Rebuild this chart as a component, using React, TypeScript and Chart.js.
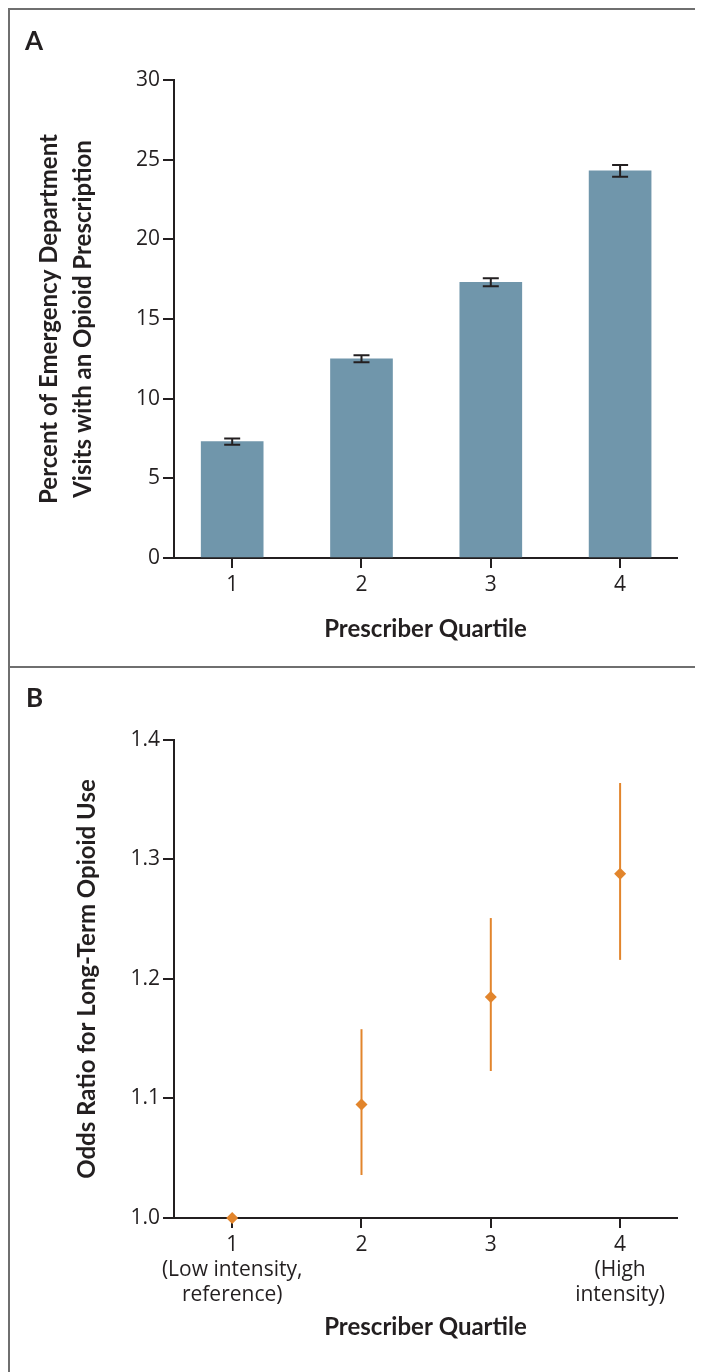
import React, { useEffect, useRef } from "react";
import { Chart, registerables } from "chart.js";

Chart.register(...registerables);

// ---------- Data ----------
const quartiles = [1, 2, 3, 4];

// Panel A: percent of ED visits with an opioid prescription
const visitPercent = [7.3, 12.5, 17.3, 24.3];
const visitPercentErr = [0.2, 0.22, 0.25, 0.37];
const percentTicks = [0, 5, 10, 15, 20, 25, 30];
const quartileLabelsA = ["1", "2", "3", "4"];

// Panel B: odds ratio for long-term opioid use
const oddsRatio = [1.0, 1.095, 1.185, 1.288];
const oddsLower = [null, 1.036, 1.123, 1.216];
const oddsUpper = [null, 1.158, 1.251, 1.364];
const oddsTicks = [1.0, 1.1, 1.2, 1.3, 1.4];
const quartileLabelsB = [
  ["1", "(Low intensity,", "reference)"],
  ["2"],
  ["3"],
  ["4", "(High", "intensity)"],
];

// ---------- Styles ----------
const FONT = "Lato";
const TICK_FONT = "Open Sans";
const INK = "#231f20";
const FRAME = "#6f6f6f";
const BAR = "#7096ab";
const ORANGE = "#e2852c";

const tickFont = { family: TICK_FONT, size: 21, weight: "normal", lineHeight: 1.19 };
const titleFont = { family: FONT, size: 24, weight: "bold", lineHeight: 1.2 };

function makeRangePlugin(
  id: string,
  lower: (number | null)[],
  upper: (number | null)[],
  color: string,
  width: number,
  cap: number,
  under: boolean
) {
  const draw = (chart: any) => {
    const { ctx } = chart;
    const x = chart.scales.x;
    const y = chart.scales.y;
    ctx.save();
    ctx.strokeStyle = color;
    ctx.lineWidth = width;
    quartiles.forEach((q, i) => {
      const lo = lower[i];
      const hi = upper[i];
      if (lo == null || hi == null) return;
      const px = x.getPixelForValue(q);
      const pLo = y.getPixelForValue(lo);
      const pHi = y.getPixelForValue(hi);
      ctx.beginPath();
      ctx.moveTo(px, pLo);
      ctx.lineTo(px, pHi);
      if (cap > 0) {
        ctx.moveTo(px - cap / 2, pLo);
        ctx.lineTo(px + cap / 2, pLo);
        ctx.moveTo(px - cap / 2, pHi);
        ctx.lineTo(px + cap / 2, pHi);
      }
      ctx.stroke();
    });
    ctx.restore();
  };
  return under
    ? { id, beforeDatasetsDraw: draw }
    : { id, afterDatasetsDraw: draw };
}

function axisBase(tickLength: number) {
  return {
    offset: false,
    grid: {
      display: true,
      offset: false,
      drawOnChartArea: false,
      drawTicks: true,
      tickLength,
      tickWidth: 2,
      tickColor: INK,
      color: INK,
      lineWidth: 2,
    },
    border: { display: true, color: INK, width: 2 },
  };
}

function PanelA() {
  const ref = useRef<HTMLCanvasElement | null>(null);
  useEffect(() => {
    if (!ref.current) return;
    const lower = visitPercent.map((v, i) => v - visitPercentErr[i]);
    const upper = visitPercent.map((v, i) => v + visitPercentErr[i]);
    const chart = new Chart(ref.current, {
      type: "bar",
      data: {
        datasets: [
          {
            data: quartiles.map((q, i) => ({ x: q, y: visitPercent[i] })),
            backgroundColor: BAR,
            borderWidth: 0,
            barThickness: 62,
          },
        ],
      },
      options: {
        responsive: false,
        animation: false,
        devicePixelRatio: 1,
        layout: { padding: { top: 70, right: 18, left: 0, bottom: 0 } },
        plugins: { legend: { display: false }, tooltip: { enabled: false } },
        scales: {
          x: {
            type: "linear",
            min: 0.55,
            max: 4.44,
            afterBuildTicks: (s: any) => {
              s.ticks = quartiles.map((v) => ({ value: v }));
            },
            afterFit: (s: any) => {
              s.height = 108;
            },
            ...axisBase(10),
            ticks: {
              callback: (_v: any, i: number) => quartileLabelsA[i],
              font: tickFont,
              color: INK,
              padding: 5,
              maxRotation: 0,
              autoSkip: false,
            },
            title: {
              display: true,
              text: "Prescriber Quartile",
              font: titleFont,
              color: INK,
              padding: { top: 0, bottom: 22.5 },
            },
          },
          y: {
            type: "linear",
            min: 0,
            max: 30,
            afterBuildTicks: (s: any) => {
              s.ticks = percentTicks.map((v) => ({ value: v }));
            },
            afterFit: (s: any) => {
              s.width = 164;
            },
            ...axisBase(11),
            ticks: {
              callback: (v: any) => String(v),
              font: tickFont,
              color: INK,
              padding: 3,
            },
            title: {
              display: true,
              text: [
                "Percent of Emergency Department",
                "Visits with an Opioid Prescription",
              ],
              font: { ...titleFont, lineHeight: 1.42 },
              color: INK,
              padding: { top: 22, bottom: 0 },
            },
          },
        },
      } as any,
      plugins: [makeRangePlugin("errA", lower, upper, INK, 2, 16, false)],
    });
    return () => chart.destroy();
  }, []);
  return <canvas ref={ref} width={685} height={656} style={{ display: "block" }} />;
}

function PanelB() {
  const ref = useRef<HTMLCanvasElement | null>(null);
  useEffect(() => {
    if (!ref.current) return;
    const chart = new Chart(ref.current, {
      type: "scatter",
      data: {
        datasets: [
          {
            data: quartiles.map((q, i) => ({ x: q, y: oddsRatio[i] })),
            backgroundColor: ORANGE,
            borderColor: ORANGE,
            borderWidth: 0,
            pointStyle: "rectRot",
            pointRadius: 6,
            clip: false,
          },
        ],
      },
      options: {
        responsive: false,
        animation: false,
        devicePixelRatio: 1,
        layout: { padding: { top: 72, right: 18, left: 0, bottom: 0 } },
        plugins: { legend: { display: false }, tooltip: { enabled: false } },
        scales: {
          x: {
            type: "linear",
            min: 0.55,
            max: 4.44,
            afterBuildTicks: (s: any) => {
              s.ticks = quartiles.map((v) => ({ value: v }));
            },
            afterFit: (s: any) => {
              s.height = 154;
            },
            ...axisBase(10),
            ticks: {
              callback: (_v: any, i: number) => quartileLabelsB[i],
              font: tickFont,
              color: INK,
              padding: 5,
              maxRotation: 0,
              autoSkip: false,
            },
            title: {
              display: true,
              text: "Prescriber Quartile",
              font: titleFont,
              color: INK,
              padding: { top: 0, bottom: 30.5 },
            },
          },
          y: {
            type: "linear",
            min: 1.0,
            max: 1.4,
            afterBuildTicks: (s: any) => {
              s.ticks = oddsTicks.map((v) => ({ value: v }));
            },
            afterFit: (s: any) => {
              s.width = 164;
            },
            ...axisBase(11),
            ticks: {
              callback: (v: any) => Number(v).toFixed(1),
              font: tickFont,
              color: INK,
              padding: 3,
            },
            title: {
              display: true,
              text: "Odds Ratio for Long-Term Opioid Use",
              font: titleFont,
              color: INK,
              padding: { top: 62.5, bottom: 0 },
            },
          },
        },
      } as any,
      plugins: [makeRangePlugin("ciB", oddsLower, oddsUpper, ORANGE, 2, 0, true)],
    });
    return () => chart.destroy();
  }, []);
  return <canvas ref={ref} width={685} height={704} style={{ display: "block" }} />;
}

const letterStyle: React.CSSProperties = {
  position: "absolute",
  fontFamily: FONT,
  fontWeight: "bold",
  fontSize: 26,
  lineHeight: "26px",
  color: INK,
};

export default function App() {
  return (
    <div
      style={{
        borderTop: `2px solid ${FRAME}`,
        borderLeft: `2px solid ${FRAME}`,
        height: 1362,
        overflow: "hidden",
        position: "relative",
        background: "#fff",
      }}
    >
      <div style={{ position: "relative", height: 656 }}>
        <PanelA />
        <div style={{ ...letterStyle, left: 15, top: 17 }}>A</div>
      </div>
      <div style={{ height: 2, background: FRAME }} />
      <div style={{ position: "relative", height: 704 }}>
        <PanelB />
        <div style={{ ...letterStyle, left: 16, top: 16 }}>B</div>
      </div>
    </div>
  );
}
